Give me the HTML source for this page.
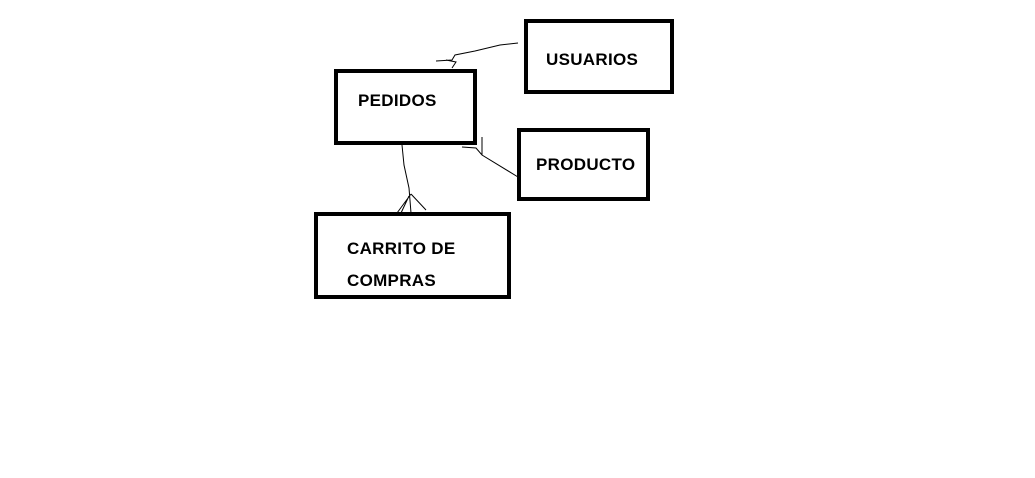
<html><body style="margin:0;width:1035px;height:478px;background:#fff;position:relative;overflow:hidden;font-family:'Liberation Sans',sans-serif">
<style>.b{position:absolute;border:4px solid #000;box-sizing:border-box;background:#fff}.t{position:absolute;font-size:17px;font-weight:bold;color:#000;letter-spacing:0.3px}</style>
<svg width="1035" height="478" style="position:absolute;left:0;top:0">
<g fill="none" stroke="#000" stroke-width="1">
<path d="M518,43 L500,45 L475,51 L455,55 L452,60 L436,61 M446,60 L456,62 L452,68"/>
<path d="M462,147 L476,148 L482,155 L518,177 M482,137 L482,155"/>
<path d="M402,145 L404,165 L409,188 L411,213 M411,194 L397,213 M411,194 L426,210 M409,196 L401,213"/>
</g></svg>
<div class="b" style="left:524px;top:19px;width:150px;height:75px"></div>
<div class="b" style="left:334px;top:69px;width:143px;height:76px"></div>
<div class="b" style="left:517px;top:128px;width:133px;height:73px"></div>
<div class="b" style="left:314px;top:212px;width:197px;height:87px"></div>
<div class="t" style="left:546px;top:50px">USUARIOS</div>
<div class="t" style="left:358px;top:91px">PEDIDOS</div>
<div class="t" style="left:536px;top:155px">PRODUCTO</div>
<div class="t" style="left:347px;top:233px;line-height:32px">CARRITO DE<br>COMPRAS</div>
</body></html>
